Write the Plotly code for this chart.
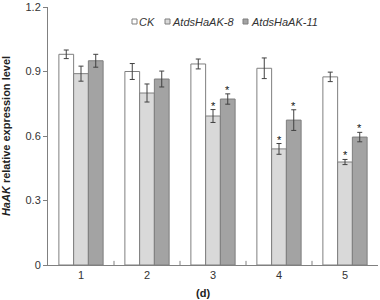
import plotly.graph_objects as go

days = [1, 2, 3, 4, 5]
day_labels = ["1", "2", "3", "4", "5"]
series_names = ["CK", "AtdsHaAK-8", "AtdsHaAK-11"]
ck = [0.98, 0.90, 0.935, 0.915, 0.875]
ck_err = [0.02, 0.037, 0.023, 0.048, 0.022]
l8 = [0.89, 0.80, 0.693, 0.54, 0.479]
l8_err = [0.035, 0.042, 0.03, 0.025, 0.012]
l11 = [0.95, 0.865, 0.772, 0.674, 0.595]
l11_err = [0.03, 0.037, 0.024, 0.048, 0.022]
sig8 = [False, False, True, True, True]
sig11 = [False, False, True, True, True]

colors = ["#ffffff", "#d9d9d9", "#a3a3a3"]
edge = "#7f7f7f"
font = "Liberation Sans, Arial, sans-serif"

W, H = 380, 300
ML, MR, MT, MB = 48, 2, 7, 35
PW, PH = W - ML - MR, H - MT - MB

def px(xp):
    return (xp - ML) / PW

def py(yp):
    return (H - MB - yp) / PH

bargap = 0.33
bw = (1 - bargap) / 3

fig = go.Figure()
for name, vals, errs, col in zip(series_names, [ck, l8, l11], [ck_err, l8_err, l11_err], colors):
    fig.add_trace(go.Bar(
        x=days, y=vals, name=name, showlegend=False,
        marker=dict(color=col, line=dict(color=edge, width=1)),
        error_y=dict(type="data", array=errs, color="#404040", thickness=1, width=2.5),
    ))

# significance asterisks, placed just above each error bar
for k, (vals, errs, sig) in enumerate([(l8, l8_err, sig8), (l11, l11_err, sig11)]):
    off = k * bw
    for d, v, e, s in zip(days, vals, errs, sig):
        if s:
            fig.add_annotation(x=d + off, y=v + e, xref="x", yref="y", text="*",
                               showarrow=False, xanchor="center", yanchor="middle",
                               yshift=4, font=dict(size=11, color="#111111", family=font))

fig.update_layout(
    width=W, height=H,
    margin=dict(l=ML, r=MR, t=MT, b=MB, autoexpand=False),
    paper_bgcolor="white", plot_bgcolor="white",
    barmode="group", bargap=bargap, bargroupgap=0,
    font=dict(family=font, size=11, color="#333333"),
    showlegend=False,
    xaxis=dict(
        range=[0.5, 5.5], tickmode="array", tickvals=days, ticktext=day_labels,
        showline=True, linecolor="#808080", linewidth=1, automargin=False,
        ticks="", showgrid=False, zeroline=False,
        tickfont=dict(size=11, color="#333333"),
    ),
    yaxis=dict(
        range=[0, 1.2], tickmode="array", tickvals=[0, 0.3, 0.6, 0.9, 1.2],
        ticktext=["0", "0.3", "0.6", "0.9", "1.2"],
        showline=True, linecolor="#808080", linewidth=1, automargin=False,
        ticks="outside", ticklen=4, tickcolor="#808080",
        showgrid=False, zeroline=False,
        tickfont=dict(size=11, color="#333333"),
        title=dict(text="<b><i>HaAK</i> relative expression level</b>",
                   font=dict(size=11, color="#222222"), standoff=14),
    ),
)

# legend: small squares + italic labels
legend_sq_x = [132, 165, 243]
legend_tx_x = [138, 171, 250]
for name, col, sx, tx in zip(series_names, colors, legend_sq_x, legend_tx_x):
    fig.add_shape(type="rect", xref="paper", yref="paper",
                  x0=px(sx), x1=px(sx + 5), y0=py(24), y1=py(19),
                  fillcolor=col, line=dict(color=edge, width=1))
    fig.add_annotation(text="<i>%s</i>" % name, xref="paper", yref="paper",
                       x=px(tx), y=py(22), xanchor="left", yanchor="middle",
                       showarrow=False, xshift=-1,
                       font=dict(size=11, color="#333333"))

# boundary tick marks between categories (pointing up from x axis)
for b in [1.5, 2.5, 3.5, 4.5]:
    fig.add_shape(type="line", xref="x", yref="paper", x0=b, x1=b, y0=0, y1=0.016,
                  line=dict(color="#808080", width=1))

fig.add_annotation(text="<b>(d)</b>", xref="paper", yref="paper", x=px(203), y=py(293),
                   xanchor="center", yanchor="middle", showarrow=False,
                   font=dict(size=11, color="#222222"))

fig.write_html("out.html", config={"displayModeBar": False, "staticPlot": True},
               post_script="document.body.style.margin='0';document.body.style.overflow='hidden';")
